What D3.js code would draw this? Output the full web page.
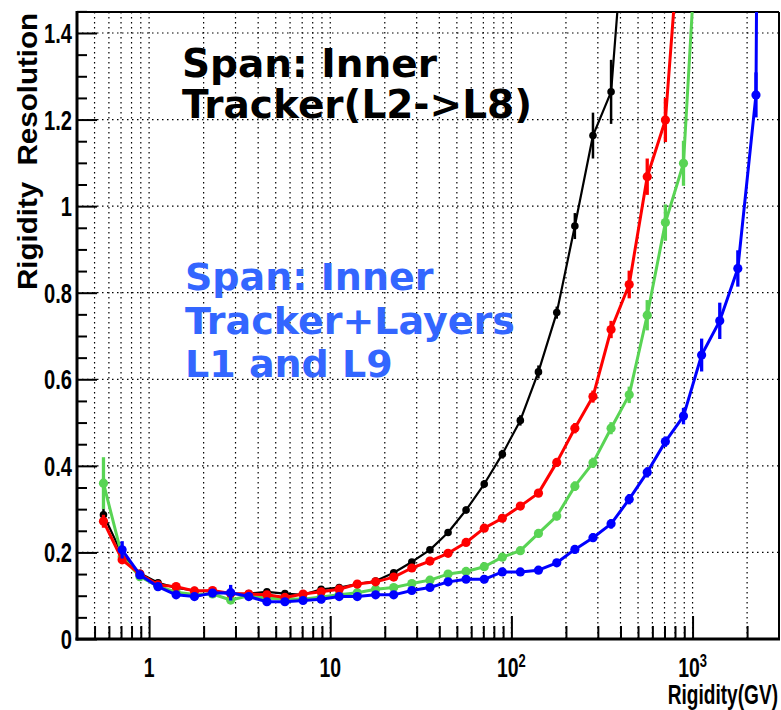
<!DOCTYPE html>
<html>
<head>
<meta charset="utf-8">
<script src="https://cdn.jsdelivr.net/npm/d3@7"></script>
<style>
  html, body { margin: 0; padding: 0; background: #ffffff; }
  svg { display: block; }
</style>
</head>
<body>
<svg id="chart" width="781" height="710"></svg>
<script>
// ---------------- DATA ----------------
const rigidity = [0.56, 0.71, 0.89, 1.12, 1.41, 1.78, 2.24, 2.82, 3.55, 4.47, 5.62, 7.08, 8.91,
  11.2, 14.1, 17.8, 22.4, 28.2, 35.5, 44.7, 56.2, 70.8, 89.1, 112, 141, 178, 224, 282, 355,
  447, 562, 708, 891, 1122, 1413, 1778, 2239, 2818];

const resInner = [0.287, 0.195, 0.152, 0.130, 0.118, 0.112, 0.110, 0.104, 0.105, 0.109, 0.105, 0.102,
  0.115, 0.119, 0.127, 0.134, 0.153, 0.178, 0.206, 0.246, 0.298, 0.358, 0.427, 0.505, 0.617,
  0.754, 0.954, 1.163, 1.264, 1.80];
const errInner = [0.015, 0.008, 0.005, 0.004, 0.004, 0.004, 0.004, 0.004, 0.004, 0.004, 0.004, 0.004,
  0.004, 0.004, 0.004, 0.004, 0.005, 0.005, 0.006, 0.007, 0.008, 0.009, 0.010, 0.012, 0.015,
  0.014, 0.030, 0.053, 0.074, 0.10];

const resRed = [0.272, 0.183, 0.150, 0.125, 0.121, 0.111, 0.112, 0.105, 0.104, 0.102, 0.096, 0.104,
  0.109, 0.115, 0.127, 0.132, 0.143, 0.164, 0.180, 0.198, 0.223, 0.256, 0.279, 0.307, 0.337,
  0.408, 0.487, 0.560, 0.715, 0.819, 1.068, 1.199, 1.75];
const errRed = [0.015, 0.008, 0.005, 0.004, 0.004, 0.004, 0.004, 0.004, 0.004, 0.004, 0.004, 0.004,
  0.004, 0.004, 0.004, 0.004, 0.004, 0.005, 0.005, 0.006, 0.006, 0.007, 0.008, 0.008, 0.009,
  0.010, 0.012, 0.014, 0.020, 0.032, 0.042, 0.051, 0.08];

const resGreen = [0.360, 0.190, 0.144, 0.122, 0.108, 0.103, 0.104, 0.090, 0.100, 0.094, 0.093, 0.092,
  0.097, 0.102, 0.107, 0.115, 0.119, 0.128, 0.136, 0.150, 0.156, 0.167, 0.189, 0.204, 0.244,
  0.284, 0.353, 0.407, 0.487, 0.564, 0.748, 0.962, 1.099, 1.83];
const errGreen = [0.060, 0.010, 0.005, 0.004, 0.004, 0.004, 0.004, 0.004, 0.004, 0.004, 0.004, 0.004,
  0.004, 0.004, 0.004, 0.004, 0.004, 0.004, 0.005, 0.005, 0.006, 0.006, 0.007, 0.008, 0.009,
  0.010, 0.011, 0.012, 0.014, 0.019, 0.035, 0.042, 0.052, 0.08];

const resBlue = [null, 0.206, 0.148, 0.121, 0.102, 0.098, 0.106, 0.107, 0.098, 0.086, 0.086, 0.089,
  0.092, 0.098, 0.098, 0.102, 0.102, 0.112, 0.119, 0.132, 0.138, 0.138, 0.155, 0.155, 0.159,
  0.176, 0.207, 0.234, 0.266, 0.323, 0.385, 0.456, 0.515, 0.656, 0.735, 0.856, 1.257, 8.0];
const errBlue = [null, 0.020, 0.005, 0.004, 0.004, 0.004, 0.004, 0.018, 0.004, 0.004, 0.004, 0.004,
  0.004, 0.004, 0.004, 0.004, 0.004, 0.004, 0.005, 0.005, 0.005, 0.006, 0.006, 0.006, 0.007,
  0.008, 0.009, 0.010, 0.011, 0.012, 0.012, 0.012, 0.019, 0.038, 0.042, 0.042, 0.052, 0.3];

const xMajorTicks = [1, 10, 100, 1000];
const xMajorLabels = [["1", ""], ["10", ""], ["10", "2"], ["10", "3"]];
const xMinorTicks = [0.5, 0.6, 0.7, 0.8, 0.9, 2, 3, 4, 5, 6, 7, 8, 9, 20, 30, 40, 50, 60, 70, 80, 90,
  200, 300, 400, 500, 600, 700, 800, 900, 2000];
const yMajorTicks = [0, 0.2, 0.4, 0.6, 0.8, 1.0, 1.2, 1.4];
const yMajorLabels = ["0", "0.2", "0.4", "0.6", "0.8", "1", "1.2", "1.4"];
const yMinorTicks = [0.05, 0.1, 0.15, 0.25, 0.3, 0.35, 0.45, 0.5, 0.55, 0.65, 0.7, 0.75, 0.85, 0.9,
  0.95, 1.05, 1.1, 1.15, 1.25, 1.3, 1.35, 1.45];

const seriesColors = ["#000000", "#59d454", "#ff0000", "#0000ff"];
const xTitle = "Rigidity(GV)";
const yTitle = "Rigidity  Resolution";
const noteBlack = ["Span: Inner", "Tracker(L2->L8)"];
const noteBlue = ["Span: Inner", "Tracker+Layers", "L1 and L9"];

// ---------------- LAYOUT ----------------
const svg = d3.select("#chart");
const L = 77, R = 779, T = 12, B = 639;
const x = d3.scaleLog().domain([0.4, 3000]).range([L, R]);
const y = d3.scaleLinear().domain([0, 1.4485]).range([B, T]);

svg.append("defs").append("clipPath").attr("id", "plotclip")
  .append("rect").attr("x", L).attr("y", T).attr("width", R - L).attr("height", B - T);

// grid
const grid = svg.append("g").attr("stroke", "#000").attr("stroke-width", 1.2)
  .attr("stroke-dasharray", "1.5,3.5");
xMinorTicks.concat(xMajorTicks).forEach(v => {
  grid.append("line").attr("x1", x(v)).attr("x2", x(v)).attr("y1", T).attr("y2", B);
});
yMajorTicks.filter(v => v > 0).forEach(v => {
  grid.append("line").attr("x1", L).attr("x2", R).attr("y1", y(v)).attr("y2", y(v));
});

// axes ticks via d3 axes (inward)
const xMinorAxis = d3.axisBottom(x).tickValues(xMinorTicks).tickSizeInner(-13).tickSizeOuter(0).tickFormat("");
const xMajorAxis = d3.axisBottom(x).tickValues(xMajorTicks).tickSizeInner(-23).tickSizeOuter(0).tickFormat("");
const yMinorAxis = d3.axisLeft(y).tickValues(yMinorTicks).tickSizeInner(-10).tickSizeOuter(0).tickFormat("");
const yMajorAxis = d3.axisLeft(y).tickValues(yMajorTicks).tickSizeInner(-20).tickSizeOuter(0).tickFormat("");
[xMinorAxis, xMajorAxis].forEach(a => {
  const g = svg.append("g").attr("transform", `translate(0,${B})`).call(a);
  g.select(".domain").remove();
  g.selectAll(".tick line").attr("stroke", "#000").attr("stroke-width", 2);
});
[yMinorAxis, yMajorAxis].forEach(a => {
  const g = svg.append("g").attr("transform", `translate(${L},0)`).call(a);
  g.select(".domain").remove();
  g.selectAll(".tick line").attr("stroke", "#000").attr("stroke-width", 2);
});

// frame
svg.append("line").attr("x1", L).attr("x2", R).attr("y1", T).attr("y2", T).attr("stroke", "#000").attr("stroke-width", 2);
svg.append("line").attr("x1", R).attr("x2", R).attr("y1", T).attr("y2", B).attr("stroke", "#000").attr("stroke-width", 2);
svg.append("line").attr("x1", L).attr("x2", L).attr("y1", T - 1).attr("y2", B + 1.5).attr("stroke", "#000").attr("stroke-width", 3);
svg.append("line").attr("x1", L - 1.5).attr("x2", R + 1).attr("y1", B).attr("y2", B).attr("stroke", "#000").attr("stroke-width", 3);

// tick labels
const tickFont = "'Liberation Sans', Arial, sans-serif";
const sx = 0.72;
yMajorTicks.forEach((v, i) => {
  svg.append("text")
    .attr("transform", `translate(72,${y(v) + 10}) scale(${sx},1)`)
    .attr("text-anchor", "end").attr("font-family", tickFont).attr("font-weight", "bold")
    .attr("font-size", 28).attr("fill", "#000").text(yMajorLabels[i]);
});
xMajorTicks.forEach((v, i) => {
  const t = svg.append("text")
    .attr("transform", `translate(${x(v)},677) scale(${sx},1)`)
    .attr("text-anchor", "middle").attr("font-family", tickFont).attr("font-weight", "bold")
    .attr("font-size", 27).attr("fill", "#000");
  t.append("tspan").text(xMajorLabels[i][0]);
  if (xMajorLabels[i][1]) {
    t.append("tspan").attr("dy", -10).attr("font-size", 18).text(xMajorLabels[i][1]);
  }
});

// axis titles
svg.append("text")
  .attr("transform", `translate(778,704) scale(0.67,1)`)
  .attr("text-anchor", "end").attr("font-family", tickFont).attr("font-weight", "bold")
  .attr("font-size", 28.5).attr("fill", "#000").text(xTitle);
svg.append("text")
  .attr("transform", `translate(37,13) rotate(-90)`)
  .attr("text-anchor", "end").attr("font-family", tickFont).attr("font-weight", "bold")
  .attr("font-size", 28).attr("fill", "#000")
  .attr("textLength", 277).attr("lengthAdjust", "spacingAndGlyphs")
  .style("white-space", "pre").text(yTitle);

// ---------------- SERIES ----------------
const allSeries = [
  { vals: resInner, errs: errInner, color: seriesColors[0], lw: 2.2, r: 3.8 },
  { vals: resGreen, errs: errGreen, color: seriesColors[1], lw: 3, r: 4.6 },
  { vals: resRed, errs: errRed, color: seriesColors[2], lw: 3, r: 4.6 },
  { vals: resBlue, errs: errBlue, color: seriesColors[3], lw: 3, r: 4.6 }
];
const plot = svg.append("g").attr("clip-path", "url(#plotclip)");
const line = d3.line().defined(d => d.v != null).x(d => x(d.x)).y(d => y(d.v));
allSeries.forEach(s => {
  const pts = s.vals.map((v, i) => ({ x: rigidity[i], v: v, e: s.errs[i] })).filter(d => d.v != null);
  const g = plot.append("g");
  g.append("path").datum(pts).attr("d", line).attr("fill", "none")
    .attr("stroke", s.color).attr("stroke-width", s.lw).attr("stroke-linejoin", "round");
  g.selectAll("line.err").data(pts).enter().append("line")
    .attr("x1", d => x(d.x)).attr("x2", d => x(d.x))
    .attr("y1", d => y(d.v - d.e)).attr("y2", d => y(d.v + d.e))
    .attr("stroke", s.color).attr("stroke-width", s.lw + 0.3);
  g.selectAll("circle").data(pts).enter().append("circle")
    .attr("cx", d => x(d.x)).attr("cy", d => y(d.v)).attr("r", s.r).attr("fill", s.color);
});

// ---------------- ANNOTATIONS ----------------
const noteFont = "'DejaVu Sans', Verdana, sans-serif";
noteBlack.forEach((t, i) => {
  svg.append("text").attr("x", 182).attr("y", 77 + i * 41)
    .attr("font-family", noteFont).attr("font-weight", "bold").attr("font-size", 39)
    .attr("fill", "#000").text(t);
});
noteBlue.forEach((t, i) => {
  svg.append("text").attr("x", 185).attr("y", 290 + i * 43.5)
    .attr("font-family", noteFont).attr("font-weight", "bold").attr("font-size", 38)
    .attr("fill", "#3366ff").text(t);
});
</script>
</body>
</html>
